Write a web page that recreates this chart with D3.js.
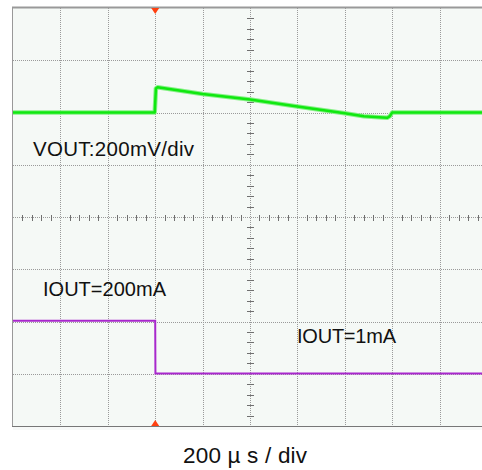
<!DOCTYPE html>
<html><head><meta charset="utf-8">
<script src="https://cdn.jsdelivr.net/npm/d3@7/dist/d3.min.js"></script>
<style>body{margin:0;background:#fff;}svg{display:block;}</style>
</head><body>
<script>
// time axis: microseconds, 200 µs/div, 10 divisions
const timeDomain = [-1000, 1000];
const divDomain = [-4, 4];
const triggerTime = -400;
// VOUT trace (mV relative to its offset level; 200 mV/div, offset +2 div)
const voutTime = [-1000, -402, -397, -390, -200, 0, 200, 400, 480, 560, 580, 590, 600, 1000];
const voutMv   = [0, 0, 92, 97, 71, 50, 23, -3, -14, -19, -20, -14, 0, 0];
const voutOffsetDiv = 2, voutScale = 200;
// IOUT trace (mA; 200 mA/div, zero at -3 div)
const ioutTime = [-1000, -400, -399, 1000];
const ioutMa   = [203, 203, 1, 1];
const ioutOffsetDiv = -3, ioutScale = 200;
const labels = ["VOUT:200mV/div", "IOUT=200mA", "IOUT=1mA"];
const timeLabel = "200 µ s / div";

const W = 482, H = 470;
const svg = d3.select("body").append("svg").attr("width", W).attr("height", H);
const x = d3.scaleLinear().domain(timeDomain).range([13, 487]);
const y = d3.scaleLinear().domain(divDomain).range([426, 8]);

svg.append("defs").append("clipPath").attr("id","c").append("rect")
  .attr("x",13).attr("y",8).attr("width",474).attr("height",418);

svg.append("rect").attr("x",13).attr("y",8).attr("width",474).attr("height",418).attr("fill","#f5f9f6");
svg.append("rect").attr("x",13).attr("y",426).attr("width",474).attr("height",4).attr("fill","#f7f9f8");

const g = svg.append("g").attr("clip-path","url(#c)");
const vt = d3.range(-1000, 1001, 200);
const ht = d3.range(-4, 5, 1);
g.selectAll(".vg").data(vt.slice(1)).join("line")
  .attr("x1", d=>Math.round(x(d))+0.5).attr("x2", d=>Math.round(x(d))+0.5)
  .attr("y1", 8).attr("y2", 426)
  .attr("stroke","#9a9a9a").attr("stroke-width",1).attr("stroke-dasharray","1,1");
g.selectAll(".hg").data(ht.slice(1,-1)).join("line")
  .attr("y1", d=>Math.round(y(d))+0.5).attr("y2", d=>Math.round(y(d))+0.5)
  .attr("x1", 13).attr("x2", 487)
  .attr("stroke","#9a9a9a").attr("stroke-width",1).attr("stroke-dasharray","1,1");
// center minor ticks
const hMinor = d3.range(-1000, 1001, 40).filter(d => d % 200 !== 0);
g.selectAll(".hm").data(hMinor).join("line")
  .attr("x1", d=>Math.round(x(d))+0.5).attr("x2", d=>Math.round(x(d))+0.5)
  .attr("y1", Math.round(y(0))-2).attr("y2", Math.round(y(0))+4)
  .attr("stroke","#707070");
const vMinor = d3.range(-4, 4.01, 0.2).filter(d => Math.abs(d - Math.round(d)) > 0.01);
g.selectAll(".vm").data(vMinor).join("line")
  .attr("y1", d=>Math.round(y(d))+0.5).attr("y2", d=>Math.round(y(d))+0.5)
  .attr("x1", Math.round(x(0))-3).attr("x2", Math.round(x(0))+4)
  .attr("stroke","#707070");

// borders
svg.append("line").attr("x1",12).attr("x2",482).attr("y1",7.5).attr("y2",7.5).attr("stroke","#999").attr("stroke-width",2);
svg.append("line").attr("x1",12.5).attr("x2",12.5).attr("y1",7).attr("y2",426).attr("stroke","#999");
svg.append("line").attr("x1",12).attr("x2",482).attr("y1",426.5).attr("y2",426.5).attr("stroke","#777");

// traces
const voutData = voutTime.map((t,i)=>[t, voutOffsetDiv + voutMv[i]/voutScale]);
const ioutData = ioutTime.map((t,i)=>[t, ioutOffsetDiv + ioutMa[i]/ioutScale]);
const line = d3.line().x(d=>x(d[0])).y(d=>y(d[1]));
g.append("path").datum(voutData).attr("d",line).attr("fill","none")
  .attr("stroke","#88f088").attr("stroke-width",4.5).attr("stroke-linejoin","round");
g.append("path").datum(voutData).attr("d",line).attr("fill","none")
  .attr("stroke","#10e810").attr("stroke-width",2.5).attr("stroke-linejoin","round");
g.append("path").datum(ioutData).attr("d",line).attr("fill","none")
  .attr("stroke","#a828cc").attr("stroke-width",2);

// trigger markers
const tx = x(triggerTime);
svg.append("path").attr("d", d3.line()([[tx-4,8],[tx+4,8],[tx,14]])).attr("fill","#ff4010");
svg.append("path").attr("d", d3.line()([[tx-4,426],[tx+4,426],[tx,420]])).attr("fill","#ff4010");

// labels
const font = "'Liberation Sans', Arial, sans-serif";
svg.append("text").attr("x",33).attr("y",156).attr("font-family",font).attr("font-size",20.5)
  .attr("textLength",161).attr("fill","#111").text(labels[0]);
svg.append("text").attr("x",43).attr("y",296).attr("font-family",font).attr("font-size",20)
  .attr("textLength",123).attr("fill","#111").text(labels[1]);
svg.append("text").attr("x",297).attr("y",343).attr("font-family",font).attr("font-size",20)
  .attr("textLength",99).attr("fill","#111").text(labels[2]);
svg.append("text").attr("x",183).attr("y",463).attr("font-family",font).attr("font-size",22.5)
  .attr("textLength",124).attr("fill","#111").text(timeLabel);
</script>
</body></html>
